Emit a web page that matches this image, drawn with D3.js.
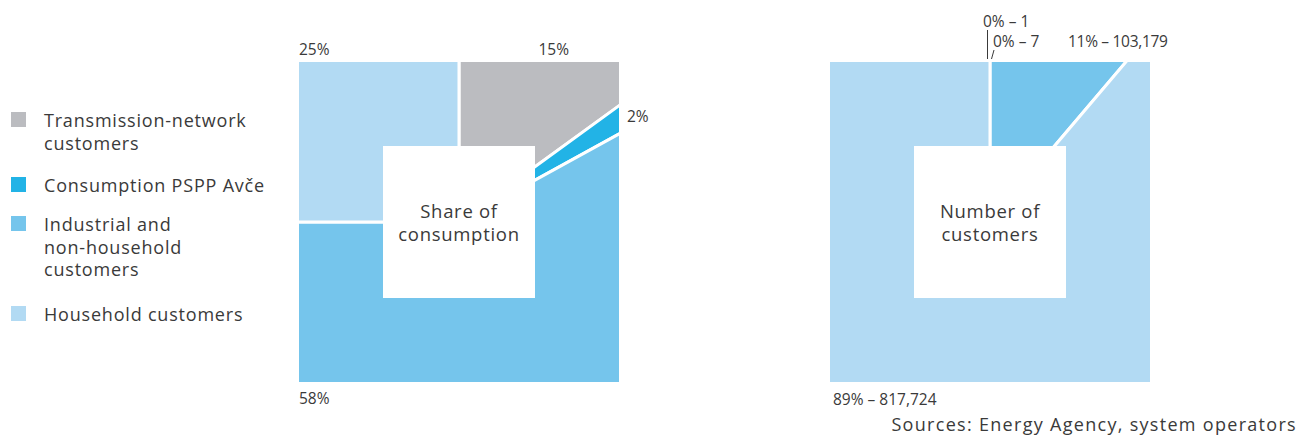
<!DOCTYPE html>
<html>
<head>
<meta charset="utf-8">
<script src="https://cdn.jsdelivr.net/npm/d3@7"></script>
<style>
  html, body { margin: 0; padding: 0; background: #fff; }
  svg { display: block; }
  text { font-family: "Open Sans", "Noto Sans", sans-serif; fill: #3a3a3a; }
</style>
</head>
<body>
<svg id="chart" width="1301" height="435"></svg>
<script>
// Customer groups, in drawing order (clockwise from 12 o'clock)
const categories = ["Transmission-network customers", "Consumption PSPP Avče",
                    "Industrial and non-household customers", "Household customers"];
const legendLines = [["Transmission-network", "customers"], ["Consumption PSPP Avče"],
                     ["Industrial and", "non-household", "customers"], ["Household customers"]];
const colors = ["#bbbcc0", "#22b3e6", "#75c5ec", "#b2daf3"];

// Share of consumption (%)
const consumptionShare = [15, 2, 58, 25];
// Number of customers
const customerCount = [7, 1, 103179, 817724];
const customerShare = [0, 0, 11, 89];

const svg = d3.select("#chart");
const side = 320, hole = 152;

const pie = d3.pie().sort(null).value(d => d).startAngle(0).endAngle(2 * Math.PI);
const arc = d3.arc().innerRadius(0).outerRadius(side);

// A pie clipped to a square, with a square hole in the middle
function squarePie(id, x0, y0, values, title) {
  const g = svg.append("g").attr("transform", `translate(${x0},${y0})`);
  const clipId = "clip-" + id;
  const c = side / 2;
  g.append("clipPath").attr("id", clipId)
    .append("rect").attr("x", -c).attr("y", -c).attr("width", side).attr("height", side);
  g.append("g")
    .attr("transform", `translate(${c},${c})`)
    .attr("clip-path", `url(#${clipId})`)
    .selectAll("path").data(pie(values)).join("path")
      .attr("d", arc)
      .attr("fill", (d, i) => colors[i])
      .attr("stroke", "#fff")
      .attr("stroke-width", 3)
      .attr("stroke-linejoin", "miter");
  g.append("rect")
    .attr("x", c - hole / 2).attr("y", c - hole / 2)
    .attr("width", hole).attr("height", hole)
    .attr("fill", "#fff");
  const t = g.append("text").attr("text-anchor", "middle")
    .style("font-size", "18.5px").style("letter-spacing", "0.7px");
  title.forEach((line, i) => {
    t.append("tspan").attr("x", c).attr("y", 156 + i * 22.5).text(line);
  });
  return g;
}

// Left: share of consumption
const gL = squarePie("cons", 299, 62, consumptionShare, ["Share of", "consumption"]);
const lab = (g, x, y, s, anchor) => g.append("text")
  .attr("x", x).attr("y", y).attr("text-anchor", anchor || "start")
  .style("font-size", "15.5px").text(s);

lab(gL, 0, -7, consumptionShare[3] + "%");
lab(gL, 270, -7, consumptionShare[0] + "%", "end");
lab(gL, 328, 60, consumptionShare[1] + "%");
lab(gL, 0, 342, consumptionShare[2] + "%");

// Right: number of customers
const gR = squarePie("cust", 830, 62, customerCount, ["Number of", "customers"]);
const fmt = d3.format(",");
lab(gR, 153, -35, customerShare[1] + "% – " + fmt(customerCount[1]));
lab(gR, 163, -15, customerShare[0] + "% – " + fmt(customerCount[0]));
lab(gR, 238, -15, customerShare[2] + "% – " + fmt(customerCount[2])).style("letter-spacing", "-0.3px");
lab(gR, 3, 343, customerShare[3] + "% – " + fmt(customerCount[3]));
// leader lines for the two tiny slices
gR.append("line").attr("x1", 157.5).attr("y1", -32).attr("x2", 157.5).attr("y2", -3)
  .attr("stroke", "#3a3a3a").attr("stroke-width", 1);
gR.append("line").attr("x1", 161.5).attr("y1", -3).attr("x2", 164).attr("y2", -12)
  .attr("stroke", "#3a3a3a").attr("stroke-width", 1);

// Legend
const legend = svg.append("g").attr("transform", "translate(11,112)");
const legendY = [0, 65, 104, 194];
categories.forEach((name, i) => {
  const row = legend.append("g").attr("transform", `translate(0,${legendY[i]})`);
  row.append("rect").attr("width", 15).attr("height", 15).attr("fill", colors[i]);
  const t = row.append("text").style("font-size", "18px").style("letter-spacing", "0.8px");
  legendLines[i].forEach((line, j) => {
    t.append("tspan").attr("x", 33).attr("y", 15 + j * 22.5).text(line);
  });
});

// Source note
svg.append("text").attr("x", 1297).attr("y", 431).attr("text-anchor", "end")
  .style("font-size", "18px").style("letter-spacing", "1.3px")
  .text("Sources: Energy Agency, system operators");
</script>
</body>
</html>
